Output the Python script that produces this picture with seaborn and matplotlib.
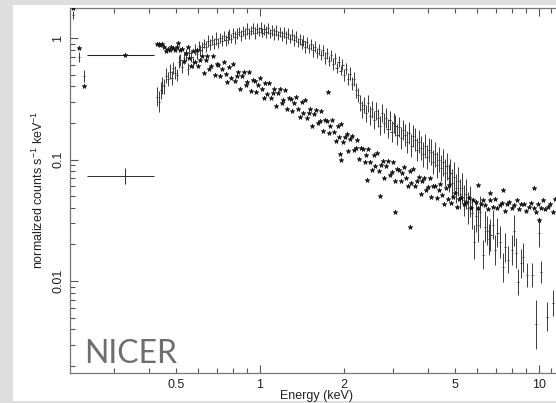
import numpy as np
import pandas as pd
import matplotlib
matplotlib.use("Agg")
import matplotlib.pyplot as plt
import seaborn as sns
from matplotlib.patches import Rectangle
from matplotlib.ticker import FixedLocator, FuncFormatter, NullFormatter

# ================= data =================
# ---- Series A: crosses with error bars (keV, counts s^-1 keV^-1, error in dex)
a_lead_e = [0.214, 0.225, 0.234]
a_lead_v = [1.55, 0.70, 0.49]
a_lead_d = [0.03, 0.04, 0.05]

a_rise_e = [0.428, 0.434, 0.441, 0.447, 0.454, 0.461, 0.468, 0.475, 0.482, 0.489,
            0.496, 0.504, 0.511, 0.519, 0.527, 0.535, 0.543, 0.551, 0.559, 0.568,
            0.576, 0.585, 0.594, 0.603, 0.612]
a_rise_v = [0.33, 0.30, 0.37, 0.41, 0.40, 0.49, 0.46, 0.53, 0.47, 0.57,
            0.52, 0.50, 0.64, 0.66, 0.58, 0.69, 0.72, 0.56, 0.75, 0.70,
            0.63, 0.80, 0.74, 0.86, 0.79]
a_rise_d = [0.08, 0.09, 0.07, 0.07, 0.06, 0.06, 0.06, 0.06, 0.06, 0.05,
            0.05, 0.05, 0.05, 0.05, 0.05, 0.05, 0.05, 0.05, 0.045, 0.045,
            0.045, 0.045, 0.045, 0.045, 0.045]

a_peak_e = [0.622, 0.632, 0.642, 0.652, 0.662, 0.673, 0.684, 0.695, 0.706, 0.717,
            0.729, 0.741, 0.753, 0.765, 0.777, 0.790, 0.803, 0.816, 0.829, 0.842,
            0.856, 0.870, 0.884, 0.898, 0.913, 0.928, 0.943, 0.958, 0.973, 0.989,
            1.005, 1.021, 1.038, 1.055, 1.072, 1.089, 1.107, 1.125, 1.143, 1.162,
            1.181, 1.200, 1.219, 1.239, 1.259, 1.280, 1.300, 1.321, 1.343, 1.365,
            1.387, 1.409, 1.432, 1.455, 1.479, 1.503, 1.527, 1.552, 1.577, 1.603,
            1.629, 1.655, 1.682, 1.709, 1.737, 1.765, 1.794, 1.823, 1.852, 1.882,
            1.913, 1.944, 1.975, 2.007, 2.040, 2.073, 2.106, 2.140, 2.175, 2.210]
a_peak_v = [0.84, 0.90, 0.85, 0.94, 0.88, 0.96, 0.90, 0.99, 0.91, 1.00,
            0.95, 1.04, 0.96, 1.01, 1.07, 0.99, 1.10, 1.01, 1.08, 1.13,
            1.04, 1.14, 1.08, 1.18, 1.09, 1.15, 1.20, 1.10, 1.19, 1.13,
            1.22, 1.11, 1.18, 1.12, 1.20, 1.09, 1.16, 1.08, 1.15, 1.05,
            1.12, 1.04, 1.11, 1.01, 1.08, 0.99, 1.06, 0.96, 1.02, 0.92,
            0.98, 0.89, 0.95, 0.85, 0.92, 0.82, 0.89, 0.79, 0.85, 0.75,
            0.81, 0.72, 0.79, 0.68, 0.75, 0.65, 0.72, 0.61, 0.68, 0.57,
            0.64, 0.54, 0.60, 0.50, 0.56, 0.46, 0.51, 0.42, 0.46, 0.37]
a_peak_d = [0.045, 0.04, 0.045, 0.05, 0.045, 0.04, 0.045, 0.05, 0.045, 0.04,
            0.045, 0.04, 0.045, 0.05, 0.045, 0.04, 0.045, 0.05, 0.045, 0.04,
            0.045, 0.04, 0.045, 0.05, 0.045, 0.04, 0.045, 0.05, 0.045, 0.04,
            0.045, 0.04, 0.045, 0.05, 0.045, 0.04, 0.045, 0.05, 0.045, 0.04,
            0.045, 0.04, 0.045, 0.05, 0.045, 0.04, 0.045, 0.05, 0.045, 0.04,
            0.045, 0.04, 0.045, 0.05, 0.045, 0.04, 0.045, 0.05, 0.045, 0.04,
            0.045, 0.04, 0.045, 0.05, 0.045, 0.04, 0.045, 0.05, 0.045, 0.04,
            0.045, 0.04, 0.045, 0.05, 0.045, 0.05, 0.055, 0.055, 0.06, 0.06]

a_fall_e = [2.246, 2.283, 2.320, 2.358, 2.397, 2.436, 2.476, 2.517, 2.558, 2.600,
            2.643, 2.686, 2.730, 2.775, 2.821, 2.867, 2.914, 2.962, 3.011, 3.060,
            3.110, 3.161, 3.213, 3.266, 3.320, 3.375, 3.430, 3.486, 3.543, 3.601,
            3.660, 3.720, 3.781, 3.843, 3.906, 3.970, 4.035, 4.101, 4.168, 4.236,
            4.305, 4.375, 4.446, 4.518, 4.591, 4.665, 4.740, 4.817, 4.895, 4.974,
            5.054, 5.136, 5.219, 5.304, 5.390, 5.477, 5.566, 5.656, 5.748, 5.841,
            5.936, 6.03, 6.13]
a_fall_v = [0.34, 0.29, 0.26, 0.28, 0.24, 0.29, 0.23, 0.26, 0.21, 0.25,
            0.22, 0.19, 0.24, 0.20, 0.22, 0.18, 0.21, 0.17, 0.20, 0.19,
            0.16, 0.185, 0.15, 0.175, 0.16, 0.14, 0.165, 0.13, 0.155, 0.145,
            0.12, 0.14, 0.125, 0.11, 0.13, 0.105, 0.12, 0.115, 0.095, 0.11,
            0.09, 0.10, 0.085, 0.095, 0.078, 0.088, 0.07, 0.078, 0.064, 0.072,
            0.058, 0.066, 0.052, 0.058, 0.046, 0.052, 0.040, 0.045, 0.036, 0.021,
            0.034, 0.029, 0.037]
a_fall_d = [0.06, 0.065, 0.07, 0.065, 0.07, 0.07, 0.075, 0.07, 0.075, 0.075,
            0.075, 0.08, 0.075, 0.08, 0.08, 0.08, 0.08, 0.085, 0.08, 0.085,
            0.085, 0.085, 0.09, 0.085, 0.09, 0.09, 0.09, 0.095, 0.09, 0.095,
            0.095, 0.095, 0.1, 0.1, 0.1, 0.1, 0.1, 0.105, 0.1, 0.105,
            0.105, 0.105, 0.11, 0.11, 0.11, 0.11, 0.115, 0.115, 0.115, 0.12,
            0.12, 0.12, 0.12, 0.125, 0.125, 0.125, 0.13, 0.13, 0.13, 0.14,
            0.13, 0.14, 0.13]

a_tail_e = [6.29, 6.40, 6.50, 6.62, 6.70, 6.83, 6.95, 7.10, 7.25, 7.43,
            7.58, 7.74, 7.99, 8.14, 8.28, 8.42, 8.60, 8.76, 9.05, 9.43,
            9.75, 9.99, 10.17, 10.68, 11.24]
a_tail_v = [0.0164, 0.028, 0.026, 0.022, 0.024, 0.029, 0.018, 0.025, 0.021, 0.013,
            0.019, 0.015, 0.018, 0.026, 0.017, 0.0098, 0.014, 0.0157, 0.0112, 0.0112,
            0.0044, 0.025, 0.0119, 0.0051, 0.0066]
a_tail_d = [0.12, 0.13, 0.12, 0.13, 0.13, 0.12, 0.12, 0.12, 0.13, 0.12,
            0.12, 0.11, 0.12, 0.13, 0.12, 0.11, 0.12, 0.12, 0.10, 0.10,
            0.20, 0.12, 0.09, 0.12, 0.11]

# ---- Series B: asterisks (keV, counts s^-1 keV^-1)
b_lead_e = [0.214, 0.225, 0.234]
b_lead_v = [1.76, 0.83, 0.40]

b_top_e = [0.427, 0.433, 0.440, 0.446, 0.453, 0.460, 0.467, 0.474, 0.481, 0.488,
           0.495, 0.503, 0.510, 0.518]
b_top_v = [0.89, 0.89, 0.88, 0.90, 0.84, 0.78, 0.81, 0.80, 0.85, 0.82,
           0.79, 0.84, 0.91, 0.80]

b_soft_e = [0.526, 0.534, 0.542, 0.550, 0.558, 0.567, 0.575, 0.584, 0.593, 0.602,
            0.611, 0.620, 0.629, 0.639, 0.648, 0.658, 0.668, 0.678, 0.688, 0.699,
            0.709, 0.720, 0.731, 0.742, 0.753, 0.764, 0.776, 0.787, 0.799, 0.811,
            0.824, 0.836, 0.849, 0.861, 0.874, 0.888, 0.901, 0.915, 0.928, 0.942,
            0.956, 0.971, 0.985, 1.000]
b_soft_v = [0.81, 0.65, 0.75, 0.85, 0.69, 0.59, 0.78, 0.64, 0.80, 0.59,
            0.655, 0.71, 0.515, 0.66, 0.71, 0.553, 0.587, 0.71, 0.494, 0.612,
            0.604, 0.484, 0.558, 0.63, 0.507, 0.435, 0.577, 0.472, 0.615, 0.439,
            0.485, 0.526, 0.381, 0.488, 0.527, 0.41, 0.435, 0.524, 0.366, 0.455,
            0.447, 0.358, 0.414, 0.468]

b_mid_e = [1.015, 1.030, 1.046, 1.061, 1.077, 1.093, 1.110, 1.126, 1.143, 1.161,
           1.178, 1.196, 1.214, 1.232, 1.250, 1.269, 1.288, 1.307, 1.327, 1.347,
           1.367, 1.388, 1.409, 1.430, 1.451, 1.473, 1.495, 1.517, 1.540, 1.563,
           1.587, 1.611, 1.635, 1.659, 1.684, 1.710, 1.735, 1.761, 1.788, 1.815,
           1.842, 1.870, 1.898, 1.926, 1.955, 1.984, 2.014, 2.044, 2.075, 2.106,
           2.138, 2.170, 2.202]
b_mid_v = [0.377, 0.322, 0.427, 0.348, 0.43, 0.32, 0.353, 0.382, 0.276, 0.352,
           0.378, 0.294, 0.311, 0.373, 0.26, 0.321, 0.315, 0.251, 0.29, 0.325,
           0.261, 0.222, 0.295, 0.24, 0.311, 0.221, 0.243, 0.262, 0.189, 0.239,
           0.256, 0.198, 0.209, 0.25, 0.173, 0.212, 0.208, 0.165, 0.189, 0.212,
           0.169, 0.143, 0.188, 0.153, 0.197, 0.139, 0.152, 0.163, 0.117, 0.147,
           0.156, 0.12, 0.125]

b_hard_e = [2.235, 2.268, 2.302, 2.337, 2.372, 2.407, 2.443, 2.480, 2.517, 2.555,
            2.593, 2.632, 2.672, 2.712, 2.752, 2.794, 2.836, 2.878, 2.921, 2.965,
            3.010, 3.055, 3.101, 3.147, 3.194, 3.242, 3.291, 3.340, 3.390, 3.441,
            3.492, 3.545, 3.598, 3.652, 3.706, 3.762, 3.818, 3.876, 3.934, 3.993,
            4.053, 4.113, 4.175, 4.238, 4.301, 4.366, 4.431, 4.498, 4.565, 4.634,
            4.703, 4.774, 4.845, 4.918, 4.992]
b_hard_v = [0.146, 0.101, 0.124, 0.121, 0.096, 0.109, 0.122, 0.096, 0.082, 0.109,
            0.088, 0.114, 0.081, 0.090, 0.097, 0.070, 0.089, 0.097, 0.075, 0.079,
            0.096, 0.067, 0.083, 0.082, 0.066, 0.077, 0.087, 0.070, 0.060, 0.080,
            0.064, 0.084, 0.060, 0.066, 0.072, 0.052, 0.066, 0.071, 0.056, 0.059,
            0.071, 0.049, 0.061, 0.060, 0.048, 0.056, 0.063, 0.051, 0.043, 0.058,
            0.047, 0.062, 0.044, 0.049, 0.053]

b_tail_e = [5.07, 5.17, 5.27, 5.38, 5.49, 5.60, 5.71, 5.82, 5.94, 6.06,
            6.18, 6.30, 6.43, 6.56, 6.69, 6.82, 6.96, 7.10, 7.24, 7.38,
            7.53, 7.68, 7.84, 7.99, 8.15, 8.32, 8.48, 8.65, 8.83, 9.00,
            9.18, 9.37, 9.56, 9.75, 9.94, 10.14, 10.34, 10.55, 10.76, 10.98,
            11.20]
b_tail_v = [0.041, 0.047, 0.048, 0.043, 0.045, 0.048, 0.040, 0.046, 0.045, 0.040,
            0.043, 0.046, 0.042, 0.039, 0.046, 0.041, 0.047, 0.040, 0.042, 0.044,
            0.038, 0.043, 0.045, 0.040, 0.042, 0.046, 0.039, 0.043, 0.043, 0.038,
            0.041, 0.044, 0.040, 0.037, 0.043, 0.040, 0.046, 0.039, 0.041, 0.043,
            0.037]

b_odd_e = [1.754, 1.93, 1.95, 2.41, 2.69, 3.04, 3.45, 6.07, 6.67, 7.43, 9.6, 9.99, 11.4]
b_odd_v = [0.36, 0.11, 0.10, 0.068, 0.05, 0.037, 0.028, 0.062, 0.053, 0.056, 0.058, 0.032, 0.047]

# ---- one wide low-energy bin shared by both series
wide_energy = 0.328
wide_lo, wide_hi = 0.240, 0.417
wide_a, wide_a_lo, wide_a_hi = 0.073, 0.063, 0.085
wide_b = 0.72

# ---- axes ticks
x_major = [1, 10]
x_minor = [0.3, 0.4, 0.5, 0.6, 0.7, 0.8, 0.9, 2, 3, 4, 5, 6, 7, 8, 9, 11, 12]
x_minor_labels = {0.5: "0.5", 2.0: "2", 5.0: "5"}
y_major = [0.01, 0.1, 1]
y_major_labels = ["0.01", "0.1", "1"]

# ================= figure =================
sns.set_theme(style="ticks")
plt.rcParams["font.family"] = ["Liberation Sans", "DejaVu Sans"]
plt.rcParams["mathtext.fontset"] = "custom"
plt.rcParams["mathtext.rm"] = "Liberation Sans"
plt.rcParams["mathtext.it"] = "Liberation Sans:italic"

W, H = 556, 403
fig = plt.figure(figsize=(W / 100, H / 100), dpi=100, facecolor="#dedede")
bg = fig.add_axes([13 / W, 2 / H, 1, 1 - 7 / H], zorder=-10)
bg.set_axis_off()
bg.add_patch(Rectangle((0, 0), 1, 1, transform=bg.transAxes, facecolor="white",
                       edgecolor="none"))

ax = fig.add_axes([70 / W, 30 / H, 500 / W, 365 / H], zorder=1)
ax.set_facecolor("white")

df_a = pd.DataFrame({
    "energy": a_lead_e + a_rise_e + a_peak_e + a_fall_e + a_tail_e,
    "counts": a_lead_v + a_rise_v + a_peak_v + a_fall_v + a_tail_v,
    "dex": a_lead_d + a_rise_d + a_peak_d + a_fall_d + a_tail_d,
})
df_b = pd.DataFrame({
    "energy": b_lead_e + b_top_e + b_soft_e + b_mid_e + b_hard_e + b_tail_e + b_odd_e,
    "counts": b_lead_v + b_top_v + b_soft_v + b_mid_v + b_hard_v + b_tail_v + b_odd_v,
})

ylo = df_a["counts"] - df_a["counts"] * 10 ** (-df_a["dex"])
yhi = df_a["counts"] * 10 ** (df_a["dex"]) - df_a["counts"]
xe = df_a["energy"] * 0.009
ax.errorbar(df_a["energy"], df_a["counts"], yerr=[ylo, yhi], xerr=xe, fmt="none",
            ecolor="#3a3a3a", elinewidth=0.7, capsize=0, zorder=2)
ax.errorbar([wide_energy], [wide_a], yerr=[[wide_a - wide_a_lo], [wide_a_hi - wide_a]],
            xerr=[[wide_energy - wide_lo], [wide_hi - wide_energy]], fmt="none",
            ecolor="#333333", elinewidth=0.75, capsize=0, zorder=2)

xb = df_b["energy"] * 0.008
ax.errorbar(df_b["energy"], df_b["counts"], xerr=xb, fmt="none",
            ecolor="#222222", elinewidth=0.6, capsize=0, zorder=3)
ax.errorbar([wide_energy], [wide_b], xerr=[[wide_energy - wide_lo], [wide_hi - wide_energy]],
            fmt="none", ecolor="#222222", elinewidth=0.75, capsize=0, zorder=3)
sns.scatterplot(data=df_b, x="energy", y="counts", marker="*", s=12, color="#151515",
                edgecolor="#151515", linewidth=0.45, ax=ax, zorder=4, legend=False)
sns.scatterplot(x=[wide_energy], y=[wide_b], marker="*", s=12, color="#151515",
                edgecolor="#151515", linewidth=0.45, ax=ax, zorder=4, legend=False)

ax.set_xscale("log")
ax.set_yscale("log")
ax.set_xlim(0.2085, 12.92)
ax.set_ylim(0.00175, 1.766)

ax.xaxis.set_major_locator(FixedLocator(x_major))
ax.xaxis.set_minor_locator(FixedLocator(x_minor))
ax.xaxis.set_major_formatter(FuncFormatter(lambda v, p: "%g" % v))
ax.xaxis.set_minor_formatter(FuncFormatter(lambda v, p: x_minor_labels.get(round(v, 3), "")))
ax.set_yticks(y_major, y_major_labels)
ax.yaxis.set_minor_formatter(NullFormatter())

ax.tick_params(axis="both", which="both", direction="in", top=True, right=False,
               color="#555555", labelcolor="#222222", labelsize=9, width=0.8)
ax.tick_params(axis="both", which="major", length=6, pad=4)
ax.tick_params(axis="both", which="minor", length=3.5, pad=4)
for lab in ax.get_yticklabels():
    lab.set_rotation(90)
    lab.set_va("center")
    lab.set_ha("right")

for side in ["left", "bottom", "top"]:
    ax.spines[side].set_color("#777777")
    ax.spines[side].set_linewidth(0.9)
ax.spines["right"].set_visible(False)
ax.set_xlabel("")
ax.set_ylabel("")

fig.text(316 / W, 1 - 396 / H, "Energy (keV)", ha="center", va="center",
         fontsize=9, color="#222222")
fig.text(38 / W, 1 - 190 / H, r"normalized counts s$^{-1}$ keV$^{-1}$", ha="center",
         va="center", rotation=90, fontsize=9, color="#222222")
fig.text(84 / W, 1 - 363 / H, "NICER", ha="left", va="baseline", fontsize=23,
         color="#6e6e6e", family="Lato")

fig.savefig("out.png", dpi=100, facecolor=fig.get_facecolor())
